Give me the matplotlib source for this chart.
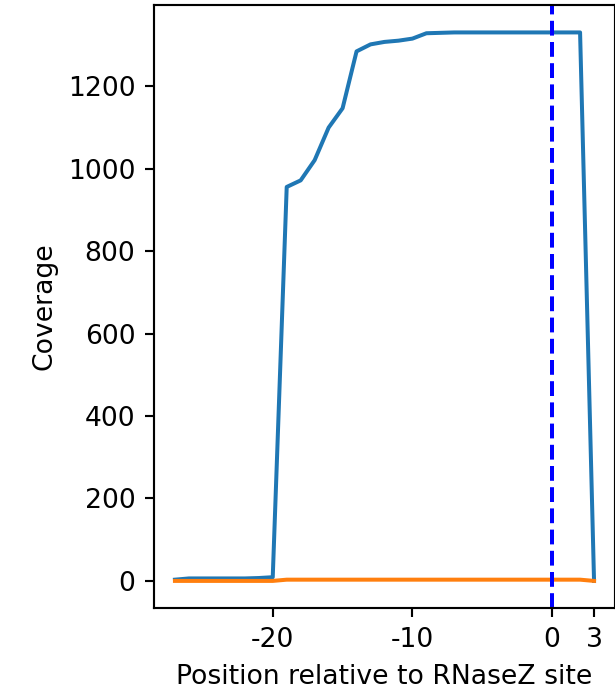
import numpy as np
import matplotlib.pyplot as plt

plt.rcParams['axes.unicode_minus'] = False

positions = list(range(-27, 4))
cov_total = [3, 6, 6, 6, 6, 6, 7, 9,
             956, 972, 1021, 1100, 1147, 1285, 1302, 1308, 1311, 1316,
             1329, 1330, 1331, 1331, 1331, 1331, 1331, 1331, 1331, 1331, 1331, 1331,
             0]
cov_other = [0, 0, 0, 0, 0, 0, 0, 0,
             3, 3, 3, 3, 3, 3, 3, 3, 3, 3, 3, 3, 3, 3, 3, 3, 3, 3, 3, 3, 3, 3,
             0]
xticks = [-20, -10, 0, 3]

dpi = 192
fig = plt.figure(figsize=(615 / dpi, 695 / dpi), dpi=dpi)
ax = fig.add_axes([0.2504, 0.1247, 0.7496, 0.8681])
ax.plot(positions, cov_total)
ax.plot(positions, cov_other)
ax.axvline(0, color='b', linestyle='--')
ax.set_xticks(xticks)
ax.set_xticklabels([str(t) for t in xticks])
ax.set_xlabel('Position relative to RNaseZ site')
ax.set_ylabel('Coverage')

fig.savefig('out.png', dpi=dpi)
